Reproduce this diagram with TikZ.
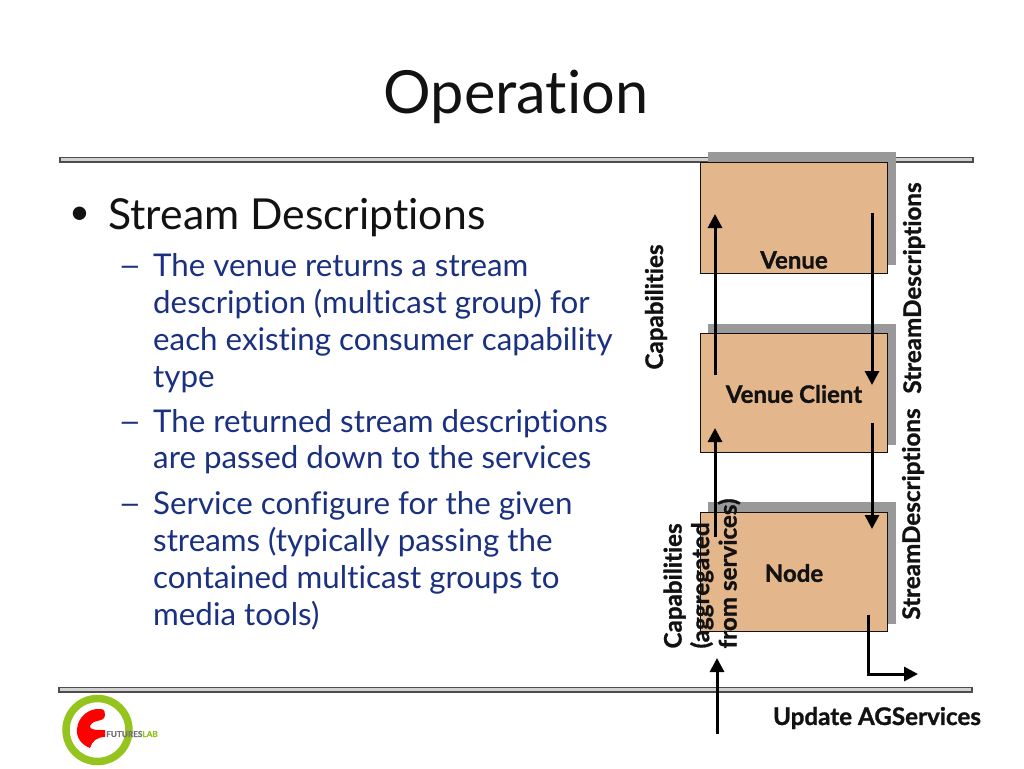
\documentclass[tikz,border=0pt]{standalone}
\usepackage{fontspec}
\setmainfont[Ligatures=NoCommon,BoldFeatures={FakeBold=1.2}]{Lato}
\usetikzlibrary{arrows.meta}
\definecolor{boxfill}{RGB}{228,182,139}
\definecolor{shadowgrey}{RGB}{153,153,153}
\definecolor{ink}{RGB}{18,18,18}
\definecolor{bodyblue}{RGB}{26,48,128}
\definecolor{ringgreen}{RGB}{150,196,30}
\tikzset{
  x=1pt,y=-1pt,
  boxnode/.style={draw=ink,line width=0.9pt,fill=boxfill,minimum width=187pt,anchor=north west,inner sep=0pt},
  shade/.style={fill=shadowgrey,draw=none},
  rulebar/.style={draw=ink!75,line width=1.1pt,fill=black!18},
  flow/.style={draw=black,line width=3pt,-{Triangle[length=14pt,width=14pt]}},
  boxlabel/.style={font=\bfseries\fontsize{24}{26}\selectfont,text=ink},
  sidelabel/.style={font=\bfseries\fontsize{24.2}{26}\selectfont,text=ink,rotate=90,align=left},
  bullet/.style={anchor=base west,inner sep=0pt,font=\fontsize{36}{40}\selectfont,text=ink},
  subline/.style={anchor=base west,inner sep=0pt,font=\fontsize{31.3}{36}\selectfont,text=bodyblue},
}
\begin{document}
\begin{tikzpicture}
\useasboundingbox (0,0) rectangle (1024,768);
% rules
\draw[rulebar] (60,157.5) rectangle (973,162);
\draw[rulebar] (59,687.5) rectangle (972,692);
% title
\node[inner sep=0pt,font=\fontsize{59.5}{70}\selectfont,text=ink] (title) at (516,97) {Operation};
% text
\node[bullet] (b0) at (69,224) {•};
\node[bullet,font=\fontsize{42.7}{48}\selectfont] (b1) at (108,229) {Stream Descriptions};
\node[subline] (d1) at (118,276) {\scalebox{1.3}[1]{–}};
\node[subline] (l1) at (153,276) {The venue returns a stream};
\node[subline] (l2) at (153,313) {description (multicast group) for};
\node[subline] (l3) at (153,350) {each existing consumer capability};
\node[subline] (l4) at (153,387) {type};
\node[subline] (d2) at (118,432) {\scalebox{1.3}[1]{–}};
\node[subline] (l5) at (153,432) {The returned stream descriptions};
\node[subline] (l6) at (153,468) {are passed down to the services};
\node[subline] (d3) at (118,514) {\scalebox{1.3}[1]{–}};
\node[subline] (l7) at (153,514) {Service configure for the given};
\node[subline] (l8) at (153,551) {streams (typically passing the};
\node[subline] (l9) at (153,588) {contained multicast groups to};
\node[subline] (l10) at (153,625) {media tools)};
% shadows
\path[shade] (708,152) rectangle (896,265);
\path[shade] (708,324) rectangle (896,445);
\path[shade] (708,502) rectangle (896,624);
% boxes
\node[boxnode,minimum height=111pt] (venue) at (700,162) {};
\node[boxnode,minimum height=119pt] (client) at (700,333) {};
\node[boxnode,minimum height=119pt] (nodebox) at (700,512) {};
\node[boxlabel] (venuelabel) at (794,260) {Venue};
\node[boxlabel] (clientlabel) at (794,394) {Venue Client};
\node[boxlabel] (nodelabel) at (794,573) {Node};
% side labels
\node[sidelabel] (caps) at (656,307) {Capabilities};
\node[sidelabel] (sd1) at (914,288) {StreamDescriptions};
\node[sidelabel] (sd2) at (913,514) {StreamDescriptions};
\node[sidelabel,font=\bfseries\fontsize{24.2}{27.5}\selectfont,anchor=west] (caps2) at (702,652) {Capabilities\\(aggregated\\from services)};
\node[font=\bfseries\fontsize{24.2}{26}\selectfont,text=ink,inner sep=0pt] (update) at (877,718) {Update AGServices};
% connector ends
\coordinate (a1s) at (715,375); \coordinate (a1e) at (715,214);
\coordinate (a2s) at (715,537); \coordinate (a2e) at (715,428);
\coordinate (a3s) at (717,734); \coordinate (a3e) at (717,658);
\coordinate (a4s) at (872,213); \coordinate (a4e) at (872,385);
\coordinate (a5s) at (872,423); \coordinate (a5e) at (872,529);
\coordinate (a6s) at (868,615); \coordinate (a6m) at (868,674); \coordinate (a6e) at (918,674);
\draw[flow] (a1s) -- (a1e);
\draw[flow] (a2s) -- (a2e);
\draw[flow] (a3s) -- (a3e);
\draw[flow] (a4s) -- (a4e);
\draw[flow] (a5s) -- (a5e);
\draw[flow] (a6s) -- (a6m) -- (a6e);
% logo
\draw[ringgreen,line width=7.5pt] (97.5,730) circle (31.5);
\fill[red] (100,709) .. controls (105,709) and (105,712) .. (105,715) .. controls (105,720) and (100,720) .. (97,721)
  .. controls (92,722) and (90,725) .. (90,727) .. controls (91,730) and (96,730) .. (105,730) -- (105,737)
  .. controls (97,737) and (92,741) .. (90,748) .. controls (82,745) and (76,738) .. (77,729)
  .. controls (78,716) and (90,708) .. cycle;
\node[anchor=west,inner sep=0pt,font=\bfseries\fontsize{8.2}{9}\selectfont,text=black!55] (logotext) at (106,734) {FUTURES\textcolor{ringgreen}{LAB}};
\end{tikzpicture}
\end{document}
